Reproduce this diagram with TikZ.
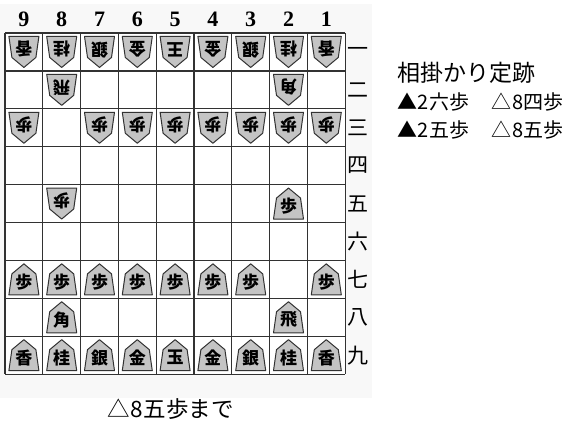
\documentclass[tikz,border=0pt]{standalone}
\usepackage{fontspec}
\newfontfamily\jp{Noto Sans CJK JP}
\newfontfamily\dig{Liberation Serif}
\definecolor{bgc}{RGB}{248,248,248}
\definecolor{gridc}{RGB}{50,50,50}
\definecolor{piecec}{RGB}{196,196,196}
\newcommand\dg[1]{\makebox[0.62em]{#1}}
\tikzset{
  gridline/.style={draw=gridc,line width=1.2pt},
  piece/.style={fill=piecec,draw=gridc,line width=1pt,line join=round},
  ptext/.style={font=\jp\bfseries\fontsize{17}{17}\selectfont,inner sep=0pt},
  colnum/.style={font=\dig\bfseries\fontsize{22}{22}\selectfont,inner sep=0pt},
  rownum/.style={font=\jp\fontsize{21}{21}\selectfont,inner sep=0pt,anchor=west},
  side/.style={font=\jp\fontsize{20}{20}\selectfont,inner sep=0pt,anchor=west},
}
\newcommand\Sp[3]{%
  \pgfmathsetmacro\px{5+37.8*(9-#1)+18.9}%
  \pgfmathsetmacro\py{33+37.9*(#2-1)+18.95}%
  \begin{scope}[shift={(\px,\py)}]
    \filldraw[piece] (0,-15.5)--(12,-5.5)--(15,15.5)--(-15,15.5)--(-12,-5.5)--cycle;
    \node[ptext] (s#1#2) at (0,2.5) {#3};
  \end{scope}}
\newcommand\Gp[3]{%
  \pgfmathsetmacro\px{5+37.8*(9-#1)+18.9}%
  \pgfmathsetmacro\py{33+37.9*(#2-1)+18.95}%
  \begin{scope}[shift={(\px,\py)},rotate=180]
    \filldraw[piece] (0,-15.5)--(12,-5.5)--(15,15.5)--(-15,15.5)--(-12,-5.5)--cycle;
    \node[ptext,rotate=180] (g#1#2) at (0,2.5) {#3};
  \end{scope}}
\begin{document}
\begin{tikzpicture}[x=1pt,y=-1pt]
\useasboundingbox (0,0) rectangle (572,426);
\fill[white] (0,0) rectangle (572,426);
\fill[bgc] (0,4) rectangle (372,398);
\fill[white] (5,33) rectangle (345.2,374.1);
% grid
\foreach \i in {0,...,9}{
  \draw[gridline] ({5+37.8*\i},33) -- ({5+37.8*\i},374.1);
  \draw[gridline] (5,{33+37.9*\i}) -- (345.2,{33+37.9*\i});
}
% column numbers
\foreach \c [count=\k] in {9,8,7,6,5,4,3,2,1}{
  \node[colnum] (c\c) at ({5+37.8*(\k-1)+18.9},19) {\c};
}
% row labels
\foreach \r [count=\k] in {一,二,三,四,五,六,七,八,九}{
  \node[rownum] (r\k) at (347,{33+37.9*(\k-1)+18.95}) {\r};
}
% gote pieces
\Gp{9}{1}{香}\Gp{8}{1}{桂}\Gp{7}{1}{銀}\Gp{6}{1}{金}\Gp{5}{1}{王}
\Gp{4}{1}{金}\Gp{3}{1}{銀}\Gp{2}{1}{桂}\Gp{1}{1}{香}
\Gp{8}{2}{飛}\Gp{2}{2}{角}
\foreach \c in {9,7,6,5,4,3,2,1}{\Gp{\c}{3}{歩}}
\Gp{8}{5}{歩}
% sente pieces
\Sp{2}{5}{歩}
\foreach \c in {9,8,7,6,5,4,3,1}{\Sp{\c}{7}{歩}}
\Sp{8}{8}{角}\Sp{2}{8}{飛}
\Sp{9}{9}{香}\Sp{8}{9}{桂}\Sp{7}{9}{銀}\Sp{6}{9}{金}\Sp{5}{9}{玉}
\Sp{4}{9}{金}\Sp{3}{9}{銀}\Sp{2}{9}{桂}\Sp{1}{9}{香}
% side text
\node[side,font=\jp\fontsize{23}{23}\selectfont] (t1) at (397,73) {相掛かり定跡};
\node[side] (t2) at (397,102) {▲\dg{2}六歩\hspace{1.1em}△\dg{8}四歩};
\node[side] (t3) at (397,130) {▲\dg{2}五歩\hspace{1.1em}△\dg{8}五歩};
\node[side,font=\jp\fontsize{22.5}{22.5}\selectfont] (cap) at (107,409) {△\dg{8}五歩まで};
\end{tikzpicture}
\end{document}
